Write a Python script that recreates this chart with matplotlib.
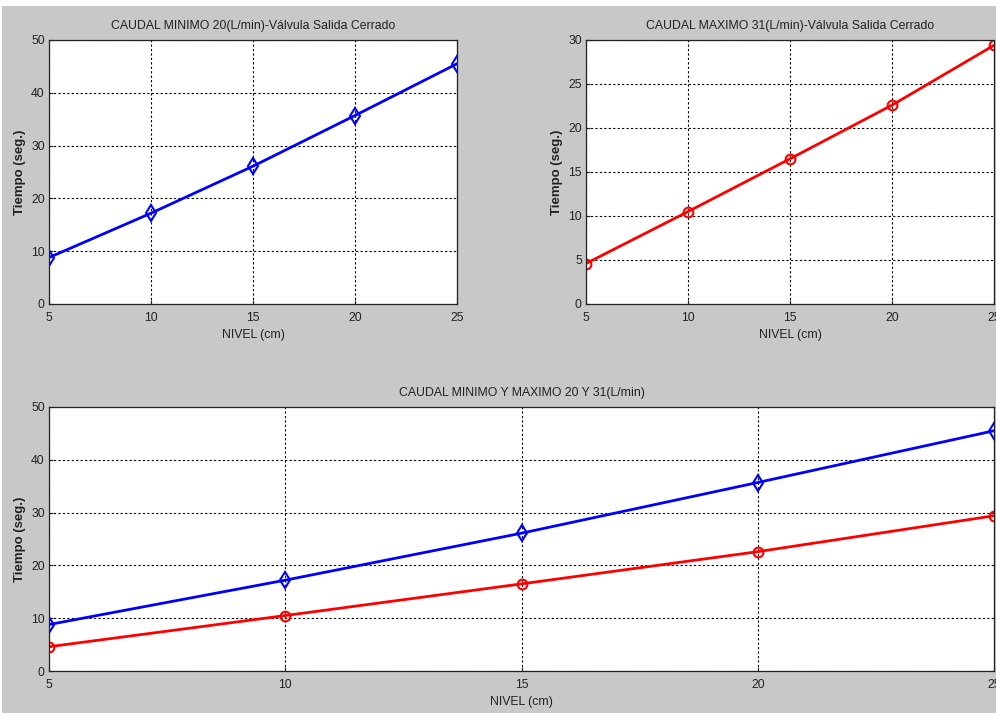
import matplotlib
matplotlib.use("Agg")
import matplotlib.pyplot as plt
from matplotlib import font_manager
from matplotlib.patches import Rectangle

# data
nivel = [5, 10, 15, 20, 25]
tiempo_min = [8.8, 17.2, 26.1, 35.7, 45.5]   # 20 L/min
tiempo_max = [4.6, 10.5, 16.5, 22.6, 29.4]   # 31 L/min

title_min = 'CAUDAL MINIMO 20(L/min)-Válvula Salida Cerrado'
title_max = 'CAUDAL MAXIMO 31(L/min)-Válvula Salida Cerrado'
title_both = 'CAUDAL MINIMO Y MAXIMO 20 Y 31(L/min)'

# matlab text is tall and narrow; use a narrow face if there is one
installed = {f.name for f in font_manager.fontManager.ttflist}
if 'Liberation Sans Narrow' in installed:
    FAM, FS = ['Liberation Sans Narrow', 'DejaVu Sans'], 10.3
else:
    FAM, FS = ['Liberation Sans', 'DejaVu Sans'], 8.8
plt.rcParams['font.family'] = FAM
plt.rcParams['font.size'] = FS
TXT = '#222222'

W, H = 996, 713
fig = plt.figure(figsize=(W / 100, H / 100), dpi=100, facecolor='white')
# gray figure area (thin white strip top and left, as in the screenshot)
fig.patches.append(Rectangle((2 / W, 0), 1, 1 - 6 / H, transform=fig.transFigure,
                             facecolor='#c8c8c8', edgecolor='none', zorder=-10))


def px_axes(left, top, right, bottom):
    return fig.add_axes([left / W, 1 - bottom / H, (right - left) / W, (bottom - top) / H])


def style(ax, ymax, ystep, title):
    ax.set_xlim(5, 25)
    ax.set_ylim(0, ymax)
    ax.set_xticks(nivel)
    ax.set_yticks(range(0, ymax + 1, ystep))
    ax.grid(True, color='black', linestyle=(0, (2, 2)), linewidth=0.8)
    ax.tick_params(direction='in', length=3, colors=TXT, labelsize=FS)
    ax.tick_params(axis='x', pad=5.5)
    ax.tick_params(axis='y', pad=3)
    for s in ax.spines.values():
        s.set_color(TXT)
        s.set_linewidth(0.9)
    ax.set_title(title, pad=8, color=TXT, fontsize=FS)
    ax.set_xlabel('NIVEL (cm)', labelpad=4, color=TXT, fontsize=FS)
    ax.set_ylabel('Tiempo (seg.)', labelpad=4, color=TXT, fontsize=9.5,
                  family=['Liberation Sans', 'DejaVu Sans'], fontweight='bold')


ax1 = px_axes(49, 40, 457, 304)
ax1.plot(nivel, tiempo_min, color='blue', lw=2, marker='d', ms=8, mfc='none', mew=1.5)
style(ax1, 50, 10, title_min)

ax2 = px_axes(586, 40, 994, 304)
ax2.plot(nivel, tiempo_max, color='red', lw=2, marker='o', ms=7, mfc='none', mew=1.5)
style(ax2, 30, 5, title_max)

ax3 = px_axes(49, 407, 994, 671)
ax3.plot(nivel, tiempo_min, color='blue', lw=2, marker='d', ms=8, mfc='none', mew=1.5)
ax3.plot(nivel, tiempo_max, color='red', lw=2, marker='o', ms=7, mfc='none', mew=1.5)
style(ax3, 50, 10, title_both)

fig.savefig('out.png', dpi=100)
